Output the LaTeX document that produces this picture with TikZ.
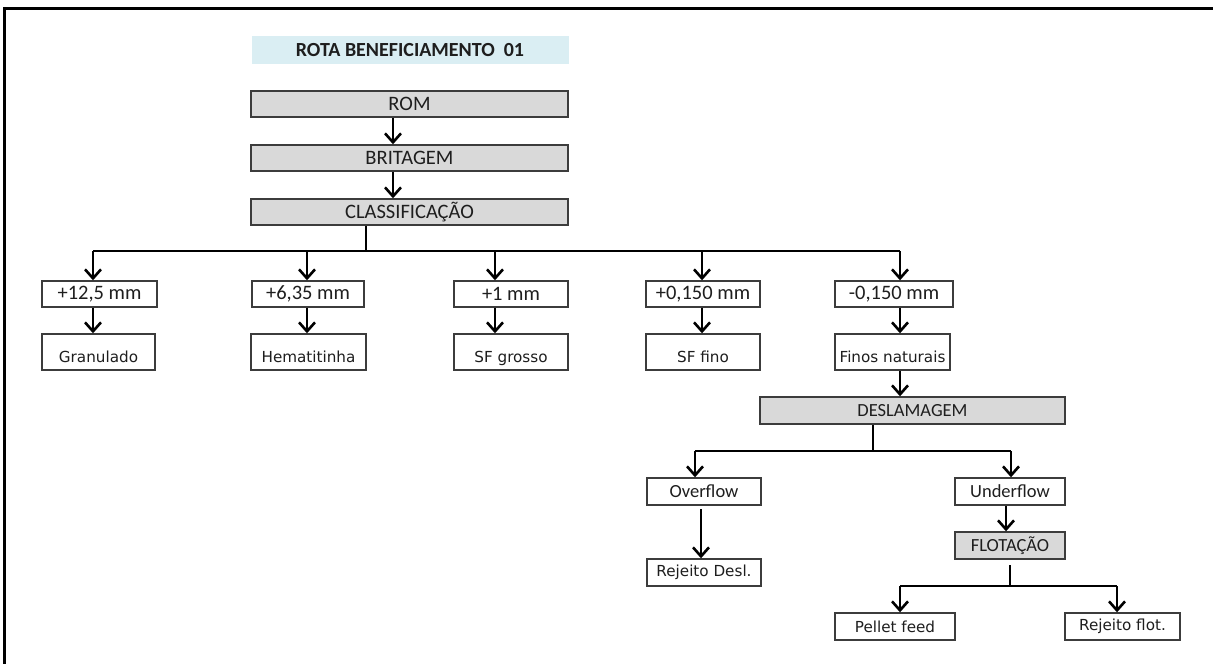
\documentclass[tikz,border=0pt]{standalone}
\usepackage{fontspec}
\setmainfont{Carlito}
\newfontfamily\vfont{DejaVu Sans}
\usetikzlibrary{arrows.meta}
\definecolor{grayfill}{HTML}{D9D9D9}
\definecolor{titlefill}{HTML}{DAEEF3}
\definecolor{boxline}{HTML}{3C3C3C}
\definecolor{textc}{HTML}{1E1E1E}
\begin{document}
\begin{tikzpicture}[x=1pt,y=-1pt,
  box/.style={draw=boxline, line width=1.4pt, inner sep=0pt, minimum height=26pt, text=textc, font=\fontsize{20.5}{21}\selectfont},
  gbox/.style={box, fill=grayfill},
  mbox/.style={box, minimum height=27pt, font=\fontsize{18.5}{19}\selectfont},
  vbox/.style={box, minimum height=36pt, text height=25pt, text depth=5pt, font=\vfont\fontsize{15.2}{16}\selectfont},
  sbox/.style={box, minimum height=27pt, font=\vfont\fontsize{15.2}{16}\selectfont},
  conn/.style={line width=2.6pt, draw=black},
  arr/.style={conn, -{Straight Barb[length=9pt,width=16pt]}}]
\useasboundingbox (0,0) rectangle (1213,664);
\fill[white] (0,0) rectangle (1213,664);
\draw[line width=3pt] (4,664) -- (4,8) -- (1213,8);

% title
\node[fill=titlefill, minimum width=317pt, minimum height=28pt, inner sep=0pt, text=textc,
  font=\bfseries\fontsize{20}{21}\selectfont] (title) at (410,50) {ROTA BENEFICIAMENTO\ \ 01};

% main column
\node[gbox, minimum width=317pt] (rom) at (409.5,104) {ROM};
\node[gbox, minimum width=317pt] (brit) at (409.5,158) {BRITAGEM};
\node[gbox, minimum width=317pt] (cls) at (409.5,212) {CLASSIFICAÇÃO};

% row 1
\node[box, minimum width=115pt] (r1a) at (99.5,294) {+12,5 mm};
\node[box, minimum width=112pt] (r1b) at (308,294) {+6,35 mm};
\node[box, minimum width=114pt] (r1c) at (511,294) {+1 mm};
\node[box, minimum width=114pt] (r1d) at (703,294) {+0,150 mm};
\node[box, minimum width=118pt] (r1e) at (894,294) {-0,150 mm};

% row 2
\node[vbox, minimum width=113pt] (r2a) at (98.5,352) {Granulado};
\node[vbox, minimum width=115pt] (r2b) at (308.5,352) {Hematitinha};
\node[vbox, minimum width=114pt] (r2c) at (511,352) {SF grosso};
\node[vbox, minimum width=114pt] (r2d) at (703,352) {SF fino};
\node[vbox, minimum width=115pt] (r2e) at (892.5,352) {Finos naturais};

% lower part
\node[mbox, fill=grayfill, minimum width=305pt] (desl) at (912.5,410.5) {DESLAMAGEM};
\node[mbox, minimum width=114pt] (over) at (704,491.5) {Overflow};
\node[mbox, minimum width=110pt] (under) at (1010,491.5) {Underflow};
\node[sbox, minimum width=114pt] (rejd) at (704,572.5) {Rejeito Desl.};
\node[mbox, fill=grayfill, minimum width=110pt] (flot) at (1010,545.5) {FLOTAÇÃO};
\node[sbox, minimum width=120pt] (pellet) at (895,626.5) {Pellet feed};
\node[sbox, minimum width=115pt] (rejf) at (1122.5,626.5) {Rejeito flot.};

% main column arrows
\draw[arr] ([xshift=-16.5pt]rom.south) -- ([xshift=-16.5pt]brit.north);
\draw[arr] ([xshift=-16.5pt]brit.south) -- ([xshift=-16.5pt]cls.north);

% classification bus
\coordinate (c0) at (366,251);
\coordinate (b1) at (93,251);
\coordinate (b2) at (307,251);
\coordinate (b3) at (495,251);
\coordinate (b4) at (702,251);
\coordinate (b5) at (900,251);
\draw[conn] (c0 |- cls.south) -- (c0);
\draw[conn] (b1) -- (b5);
\foreach \b/\t/\u in {b1/r1a/r2a, b2/r1b/r2b, b3/r1c/r2c, b4/r1d/r2d, b5/r1e/r2e}{
  \draw[arr] (\b) -- (\b |- \t.north);
  \draw[arr] (\b |- \t.south) -- (\b |- \u.north);
}
\draw[arr] (b5 |- r2e.south) -- (b5 |- desl.north);

% deslamagem split
\coordinate (d0) at (873,451);
\coordinate (dl) at (695,451);
\coordinate (dr) at (1011,451);
\draw[conn] (d0 |- desl.south) -- (d0);
\draw[conn] (dl) -- (dr);
\draw[arr] (dl) -- (dl |- over.north);
\draw[arr] (dr) -- (dr |- under.north);

\coordinate (ox) at (701,509);
\draw[arr] (ox) -- (ox |- rejd.north);
\coordinate (ux) at (1006,505);
\draw[arr] (ux |- under.south) -- (ux |- flot.north);

% flotation split
\coordinate (f1) at (1010,565);
\coordinate (f0) at (1010,586);
\coordinate (fl) at (900,586);
\coordinate (fr) at (1117,586);
\draw[conn] (f1) -- (f0);
\draw[conn] (fl) -- (fr);
\draw[arr] (fl) -- (fl |- pellet.north);
\draw[arr] (fr) -- (fr |- rejf.north);
\end{tikzpicture}
\end{document}
